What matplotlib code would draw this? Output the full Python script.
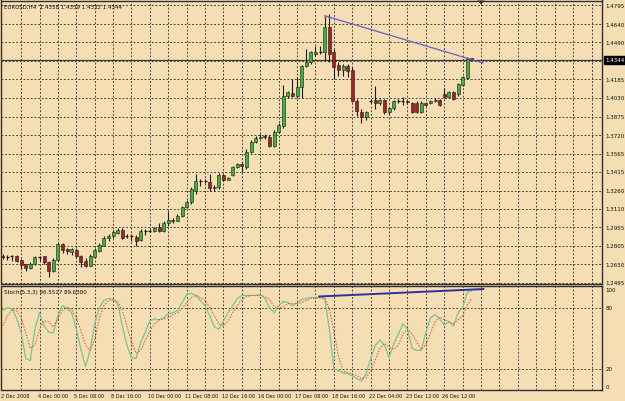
import matplotlib
matplotlib.use("Agg")
import matplotlib.pyplot as plt
import matplotlib.transforms as mtransforms
from matplotlib import font_manager
from matplotlib.patches import Rectangle, Polygon

# ---------------- data ----------------
symbol_title = "EURUSD,H4  1.4358 1.4359 1.4332 1.4344"
stoch_title = "Stoch(5,3,3) 96.5517 89.6380"
last_price_label = "1.4344"
last_price = 1.4344

opens = [1.2721, 1.2712, 1.2716, 1.2716, 1.2686, 1.2650, 1.2617, 1.2653, 1.2711, 1.2716,
         1.2666, 1.2597, 1.2688, 1.2816, 1.2777, 1.2750, 1.2771, 1.2716, 1.2680, 1.2639,
         1.2713, 1.2763, 1.2804, 1.2866, 1.2885, 1.2910, 1.2937, 1.2880, 1.2883, 1.2874,
         1.2851, 1.2929, 1.2926, 1.2929, 1.2957, 1.2924, 1.2992, 1.3020, 1.3012, 1.3048,
         1.3122, 1.3164, 1.3260, 1.3343, 1.3340, 1.3335, 1.3280, 1.3288, 1.3390, 1.3351,
         1.3390, 1.3454, 1.3481, 1.3454, 1.3583, 1.3666, 1.3699, 1.3716, 1.3708, 1.3633,
         1.3749, 1.3799, 1.4042, 1.4070, 1.4047, 1.4117, 1.4291, 1.4324, 1.4395, 1.4412,
         1.4407, 1.4614, 1.4407, 1.4302, 1.4263, 1.4291, 1.4260, 1.4006, 1.3915, 1.3868,
         1.4005, 1.4013, 1.3985, 1.4013, 1.3912, 1.3943, 1.4004, 1.4001, 1.4004, 1.3990,
         1.3990, 1.3915, 1.3990, 1.3985, 1.4007, 1.4013, 1.4062, 1.4034, 1.4076, 1.4062,
         1.4136, 1.4192, 1.4358]
highs = [1.2735, 1.2727, 1.2727, 1.2727, 1.2694, 1.2655, 1.2666, 1.2721, 1.2721, 1.2721,
         1.2680, 1.2700, 1.2837, 1.2827, 1.2783, 1.2783, 1.2783, 1.2727, 1.2700, 1.2735,
         1.2783, 1.2827, 1.2887, 1.2901, 1.2935, 1.2951, 1.2951, 1.2901, 1.2901, 1.2893,
         1.2943, 1.2943, 1.2943, 1.2960, 1.2992, 1.3009, 1.3094, 1.3034, 1.3067, 1.3133,
         1.3183, 1.3291, 1.3398, 1.3357, 1.3357, 1.3398, 1.3307, 1.3407, 1.3398, 1.3374,
         1.3465, 1.3490, 1.3495, 1.3606, 1.3680, 1.3713, 1.3730, 1.3730, 1.3722, 1.3763,
         1.3821, 1.4136, 1.4086, 1.4186, 1.4202, 1.4302, 1.4434, 1.4418, 1.4459, 1.4462,
         1.4710, 1.4725, 1.4434, 1.4327, 1.4310, 1.4310, 1.4285, 1.4020, 1.3937, 1.3923,
         1.4023, 1.4128, 1.4023, 1.4023, 1.3954, 1.4015, 1.4023, 1.4040, 1.4015, 1.3999,
         1.4000, 1.4000, 1.3999, 1.4015, 1.4032, 1.4023, 1.4109, 1.4086, 1.4086, 1.4153,
         1.4211, 1.4366, 1.4359]
lows = [1.2694, 1.2688, 1.2680, 1.2666, 1.2611, 1.2597, 1.2611, 1.2644, 1.2680, 1.2653,
        1.2542, 1.2583, 1.2677, 1.2744, 1.2735, 1.2727, 1.2700, 1.2625, 1.2625, 1.2634,
        1.2700, 1.2750, 1.2799, 1.2845, 1.2868, 1.2901, 1.2860, 1.2866, 1.2845, 1.2804,
        1.2843, 1.2893, 1.2918, 1.2918, 1.2918, 1.2918, 1.2970, 1.2992, 1.3009, 1.3042,
        1.3117, 1.3150, 1.3233, 1.3302, 1.3320, 1.3260, 1.3258, 1.3274, 1.3340, 1.3349,
        1.3382, 1.3448, 1.3412, 1.3440, 1.3573, 1.3655, 1.3689, 1.3689, 1.3622, 1.3622,
        1.3738, 1.3780, 1.4028, 1.4040, 1.4028, 1.4028, 1.4285, 1.4310, 1.4376, 1.4390,
        1.4337, 1.4324, 1.4186, 1.4211, 1.4213, 1.4202, 1.3995, 1.3879, 1.3821, 1.3849,
        1.3990, 1.3937, 1.3974, 1.3896, 1.3896, 1.3929, 1.3990, 1.3974, 1.3982, 1.3904,
        1.3904, 1.3904, 1.3965, 1.3976, 1.3999, 1.3966, 1.4028, 1.4028, 1.4012, 1.4045,
        1.4128, 1.4186, 1.4332]
closes = [1.2708, 1.2716, 1.2714, 1.2677, 1.2644, 1.2617, 1.2653, 1.2711, 1.2713, 1.2672,
          1.2597, 1.2688, 1.2818, 1.2771, 1.2758, 1.2777, 1.2716, 1.2672, 1.2639, 1.2716,
          1.2769, 1.2813, 1.2866, 1.2887, 1.2918, 1.2937, 1.2866, 1.2883, 1.2880, 1.2845,
          1.2929, 1.2926, 1.2929, 1.2951, 1.2924, 1.2992, 1.3020, 1.3012, 1.3053, 1.3122,
          1.3169, 1.3274, 1.3343, 1.3340, 1.3343, 1.3280, 1.3288, 1.3390, 1.3351, 1.3363,
          1.3454, 1.3481, 1.3467, 1.3583, 1.3666, 1.3699, 1.3708, 1.3703, 1.3633, 1.3749,
          1.3805, 1.4042, 1.4076, 1.4047, 1.4117, 1.4291, 1.4324, 1.4407, 1.4412, 1.4410,
          1.4614, 1.4393, 1.4283, 1.4263, 1.4291, 1.4255, 1.4006, 1.3921, 1.3868, 1.3910,
          1.4009, 1.3990, 1.4013, 1.3912, 1.3943, 1.4004, 1.4001, 1.4004, 1.3999, 1.3915,
          1.3915, 1.3990, 1.3974, 1.4007, 1.4013, 1.3974, 1.4034, 1.4076, 1.4020, 1.4144,
          1.4200, 1.4352, 1.4344]

stoch_k = [77, 80, 79, 70, 56, 30, 28, 59, 75, 62, 56, 55, 72, 82, 79, 75, 59, 39, 22, 38,
           64, 80, 87, 89, 88, 84, 62, 43, 31, 30, 46, 56, 67, 69, 68, 70, 74, 75, 77, 85,
           93, 94, 92, 87, 82, 72, 61, 59, 67, 75, 82, 89, 92, 92, 92, 92, 93, 89, 80, 75,
           82, 86, 85, 82, 85, 88, 89, 90, 90, 90, 89, 59, 20, 18, 16, 15, 13, 10, 8, 15,
           30, 43, 48, 43, 31, 44, 54, 64, 59, 40, 38, 38, 56, 70, 73, 69, 63, 66, 62, 75,
           80, 95, 96.55]
stoch_d = [62, 72, 78, 77, 70, 55, 40, 43, 59, 67, 66, 61, 69, 77, 80, 78, 70, 57, 43, 38,
           49, 69, 82, 87, 88, 86, 77, 62, 46, 35, 38, 48, 57, 64, 68, 69, 70, 73, 75, 79,
           85, 90, 92, 90, 87, 80, 72, 64, 62, 67, 75, 82, 88, 91, 92, 92, 92, 91, 88, 81,
           79, 81, 84, 84, 84, 85, 87, 89, 89, 90, 89, 79, 56, 32, 18, 16, 15, 13, 10, 11,
           18, 29, 40, 45, 41, 39, 43, 54, 59, 54, 46, 39, 44, 55, 66, 71, 68, 66, 64, 68,
           72, 83, 89.64]

price_ticks = [1.4795, 1.4640, 1.4490, 1.4335, 1.4185, 1.4030, 1.3875, 1.3720, 1.3565,
               1.3415, 1.3260, 1.3110, 1.2955, 1.2805, 1.2650, 1.2495]
price_tick_labels = ["1.4795", "1.4640", "1.4490", "", "1.4185", "1.4030", "1.3875", "1.3720",
                     "1.3565", "1.3415", "1.3260", "1.3110", "1.2955", "1.2805", "1.2650", "1.2495"]
stoch_ticks = [100, 80, 20, 0]
stoch_levels = [80, 20]
date_positions = [0, 8, 16, 24, 32, 40, 48, 56, 64, 72, 80, 88, 96]
date_labels = ["2 Dec 2008", "4 Dec 00:00", "5 Dec 08:00", "8 Dec 16:00", "10 Dec 00:00",
               "11 Dec 08:00", "12 Dec 16:00", "16 Dec 00:00", "17 Dec 08:00", "18 Dec 16:00",
               "22 Dec 04:00", "23 Dec 12:00", "26 Dec 12:00"]
# trend lines (bar index, value)
price_trend_x = [70, 104.4]
price_trend_y = [1.4710, 1.4319]
stoch_trend_x = [68.8, 104.5]
stoch_trend_y = [91, 98.3]
shift_bar = 104

# ---------------- style ----------------
BG = "#F5DEB3"
GRID = "#2a2a2a"
UP = "#3CB43C"
DOWN = "#A82020"
FRAME = "#303030"

names = {f.name for f in font_manager.fontManager.ttflist}
if "Liberation Sans Narrow" in names:
    FONT, FS, FS_DATE, STRETCH = "Liberation Sans Narrow", 4.9, 4.6, "normal"
else:
    FONT, FS, FS_DATE, STRETCH = "DejaVu Sans", 4.4, 4.0, "condensed"
TXT = dict(family=FONT, fontsize=FS, color="#101010")

W, H = 625, 402
fig = plt.figure(figsize=(W / 100, H / 100), dpi=100, facecolor=BG)


def px_axes(l, t, r, b):
    return fig.add_axes([l / W, 1 - b / H, (r - l) / W, (b - t) / H])


x0px, dx = 2.7, 4.6
L, R = 1.5, 602
xlim = ((L - x0px) / dx, (R - x0px) / dx)

ax = px_axes(L, 1.5, R, 285)
ax2 = px_axes(L, 287, R, 391)

ppp = (1.4795 - 1.2495) / (284 - 6.5)
ytop = 1.4795 + (6.5 - 1.5) * ppp
ybot = 1.2495 - (285 - 284) * ppp

for a in (ax, ax2):
    a.set_facecolor(BG)
    a.set_xlim(*xlim)
    a.set_xticks([])
    a.set_yticks([])
    for s in a.spines.values():
        s.set_color(FRAME)
        s.set_linewidth(1.0)

ax.set_ylim(ybot, ytop)
ax2.set_ylim(-1.0, 101.3)

grid_kw = dict(color=GRID, lw=0.6, ls=(0, (2.2, 2.2)), zorder=1)
vlines = [i for i in range(4, int(xlim[1]) + 1, 4)]
for v in vlines:
    ax.axvline(v, **grid_kw)
    ax2.axvline(v, **grid_kw)
for p in price_ticks:
    ax.axhline(p, **grid_kw)
for lv in stoch_levels:
    ax2.axhline(lv, **grid_kw)

# candles
n = len(closes)
xs = list(range(n))
ax.vlines(xs, lows, highs, color="#1a1a1a", lw=0.8, zorder=3)
bw = 0.68
for i in xs:
    o, c = opens[i], closes[i]
    lo, hi = min(o, c), max(o, c)
    if hi - lo < 0.0004:
        ax.hlines((o + c) / 2, i - bw / 2, i + bw / 2, color="#1a1a1a", lw=0.9, zorder=4)
    else:
        col = UP if c >= o else DOWN
        ax.add_patch(Rectangle((i - bw / 2, lo), bw, hi - lo, facecolor=col,
                               edgecolor="#1a1a1a", lw=0.4, zorder=4))

ax.axhline(last_price, color="#3a3a3a", lw=0.9, zorder=2)
ax.plot(price_trend_x, price_trend_y, color="#6a5fc8", lw=0.9, zorder=5)

# stochastic
ax2.plot(xs, stoch_k, color="#78c496", lw=0.9, zorder=3)
ax2.plot(xs, stoch_d, color="#e0502a", lw=0.7, ls=(0, (1.5, 1.5)), zorder=3)
ax2.plot(stoch_trend_x, stoch_trend_y, color="#3030a0", lw=1.4, zorder=4)

# titles
ax.text(0.004, 0.99, symbol_title, transform=ax.transAxes, ha="left", va="top",
        fontstretch=STRETCH, **TXT)
ax2.text(0.004, 0.97, stoch_title, transform=ax2.transAxes, ha="left", va="top",
         fontstretch=STRETCH, **TXT)

# right price labels
trR = mtransforms.blended_transform_factory(fig.transFigure, ax.transData)
for p, lab in zip(price_ticks, price_tick_labels):
    if lab:
        fig.text(605.5 / W, p, lab, transform=trR, ha="left", va="center",
                 fontstretch=STRETCH, **TXT)
fig.text(605.5 / W, last_price, last_price_label, transform=trR, ha="left", va="center",
         fontstretch=STRETCH, family=FONT, fontsize=FS, color="white",
         bbox=dict(boxstyle="square,pad=0.25", fc="black", ec="black"))

trR2 = mtransforms.blended_transform_factory(fig.transFigure, ax2.transData)
for v in stoch_ticks:
    va = "top" if v == 100 else ("bottom" if v == 0 else "center")
    fig.text(605.5 / W, v, str(v), transform=trR2, ha="left", va=va,
             fontstretch=STRETCH, **TXT)

# date labels
trB = mtransforms.blended_transform_factory(ax2.transData, fig.transFigure)
for pos, lab in zip(date_positions, date_labels):
    fig.text(pos - 0.4 if pos > 0 else -0.3, 1 - 396.5 / H, lab, transform=trB,
             ha="left", va="center", fontstretch=STRETCH, family=FONT,
             fontsize=FS_DATE, color="#101010")

# chart-shift marker
trT = mtransforms.blended_transform_factory(ax.transData, fig.transFigure)
ax.add_patch(Polygon([(shift_bar - 0.8, 1 - 1.5 / H), (shift_bar + 0.8, 1 - 1.5 / H),
                      (shift_bar, 1 - 5.5 / H)], closed=True, transform=trT,
                     facecolor="#303030", edgecolor="none", clip_on=False, zorder=6))

fig.savefig("out.png", dpi=100, facecolor=BG)
